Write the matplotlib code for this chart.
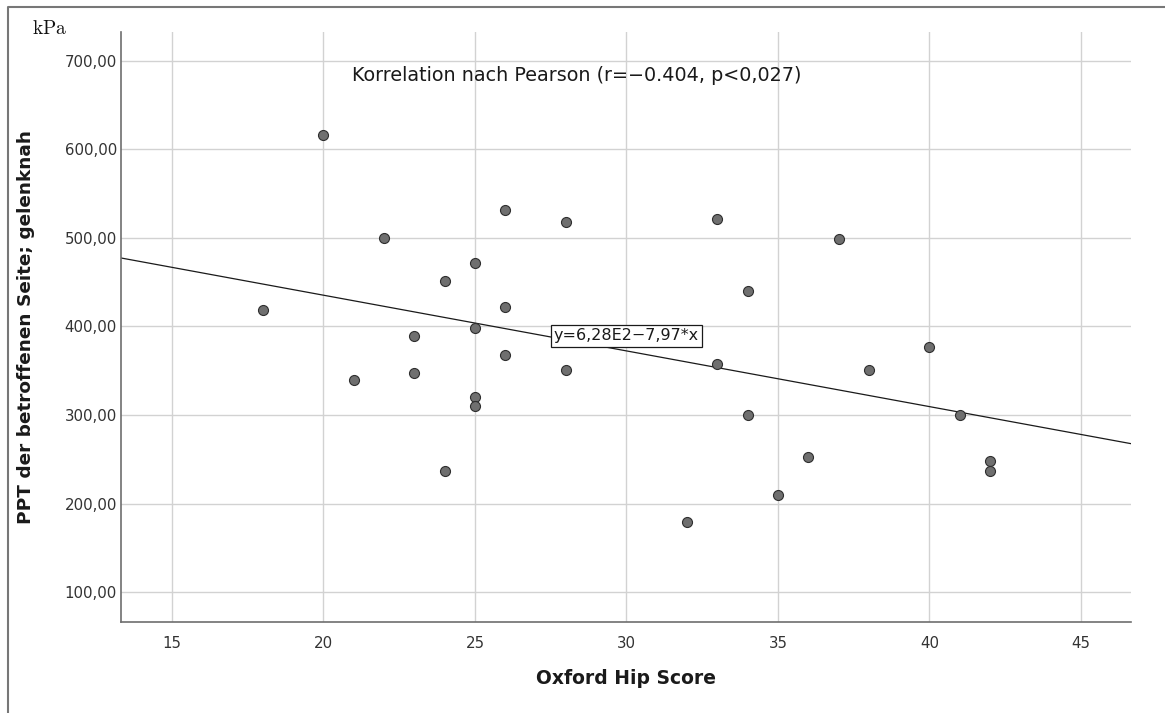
import numpy as np
import matplotlib
matplotlib.use("Agg")
import matplotlib.pyplot as plt
from matplotlib.lines import Line2D

plt.rcParams["font.family"] = ["DejaVu Sans"]
plt.rcParams["mathtext.fontset"] = "cm"

# Oxford Hip Score vs. pressure pain threshold (kPa), one point per patient
ohs = [18, 20, 21, 22, 23, 23, 24, 24, 25, 25, 25, 25, 26, 26, 26,
       28, 28, 32, 33, 33, 34, 34, 35, 36, 37, 38, 40, 41, 42, 42]
ppt = [418.6, 616.0, 340.0, 500.0, 389.3, 347.0, 451.4, 236.4, 471.8,
       398.3, 320.0, 310.0, 532.0, 422.4, 367.5, 518.0, 350.8,
       179.5, 521.0, 357.6, 440.5, 299.7, 209.6, 252.0, 498.5, 350.8,
       377.0, 300.0, 248.0, 236.7]

x = np.array(ohs, dtype=float)
y = np.array(ppt, dtype=float)

x_ticks = [15, 20, 25, 30, 35, 40, 45]
y_ticks = [100, 200, 300, 400, 500, 600, 700]
x_label = "Oxford Hip Score"
y_label = "PPT der betroffenen Seite; gelenknah"
corr_text = "Korrelation nach Pearson (r=\u22120.404, p<0,027)"
eq_text = "y=6,28E2\u22127,97*x"

fig = plt.figure(figsize=(11.65, 7.13), dpi=100)
ax = fig.add_axes([121 / 1165, 1 - 621.7 / 713, (1131 - 121) / 1165, (621.7 - 31.7) / 713])

ax.set_xlim(13.32, 46.65)
ax.set_ylim(66.5, 733)

ax.set_xticks(x_ticks)
ax.set_yticks(y_ticks)
ax.set_yticklabels([f"{v:.2f}".replace(".", ",") for v in y_ticks])
ax.grid(True, color="#d2d2d2", linewidth=1.0, zorder=0)
ax.set_axisbelow(True)

for side in ("top", "right"):
    ax.spines[side].set_visible(False)
for side in ("left", "bottom"):
    ax.spines[side].set_color("#6e6e6e")
    ax.spines[side].set_linewidth(1.2)

ax.tick_params(axis="both", length=0, labelsize=10.8, labelcolor="#333333")
ax.tick_params(axis="x", pad=10)
ax.tick_params(axis="y", pad=3)

# least-squares regression line across the full x range
slope, intercept = np.polyfit(x, y, 1)
xl = np.array(ax.get_xlim())
ax.plot(xl, intercept + slope * xl, color="#1a1a1a", linewidth=0.9, zorder=2)

ax.scatter(x, y, s=52, facecolor="#6f6f6f", edgecolor="#2e2e2e",
           linewidth=0.8, zorder=3)

ax.text(28.35, 684, corr_text, ha="center", va="center", fontsize=13.8,
        color="#1a1a1a", zorder=4)
ax.text(30.0, 389.3, eq_text, ha="center", va="center", fontsize=11.5,
        color="#1a1a1a", zorder=4,
        bbox=dict(boxstyle="square,pad=0.2", facecolor="white",
                  edgecolor="#1a1a1a", linewidth=0.9))

ax.set_xlabel(x_label, fontsize=13.5, fontweight="bold", color="#1a1a1a",
              labelpad=13)
ax.set_ylabel(y_label, fontsize=13.3, fontweight="bold", color="#1a1a1a")
ax.yaxis.set_label_coords(-(121 - 35) / (1131 - 121), 0.5)

fig.text(32 / 1165, 1 - 28 / 713, r"$\mathrm{kPa}$", fontsize=14,
         ha="left", va="center", color="#111111")

# outer frame: left and top edges only
fx = 8 / 1165
fy = 1 - 6.5 / 713
fig.add_artist(Line2D([fx, fx, 1.0], [0.0, fy, fy], transform=fig.transFigure,
                      color="#777777", linewidth=1.5))

fig.savefig("out.png", dpi=100, facecolor="white")
